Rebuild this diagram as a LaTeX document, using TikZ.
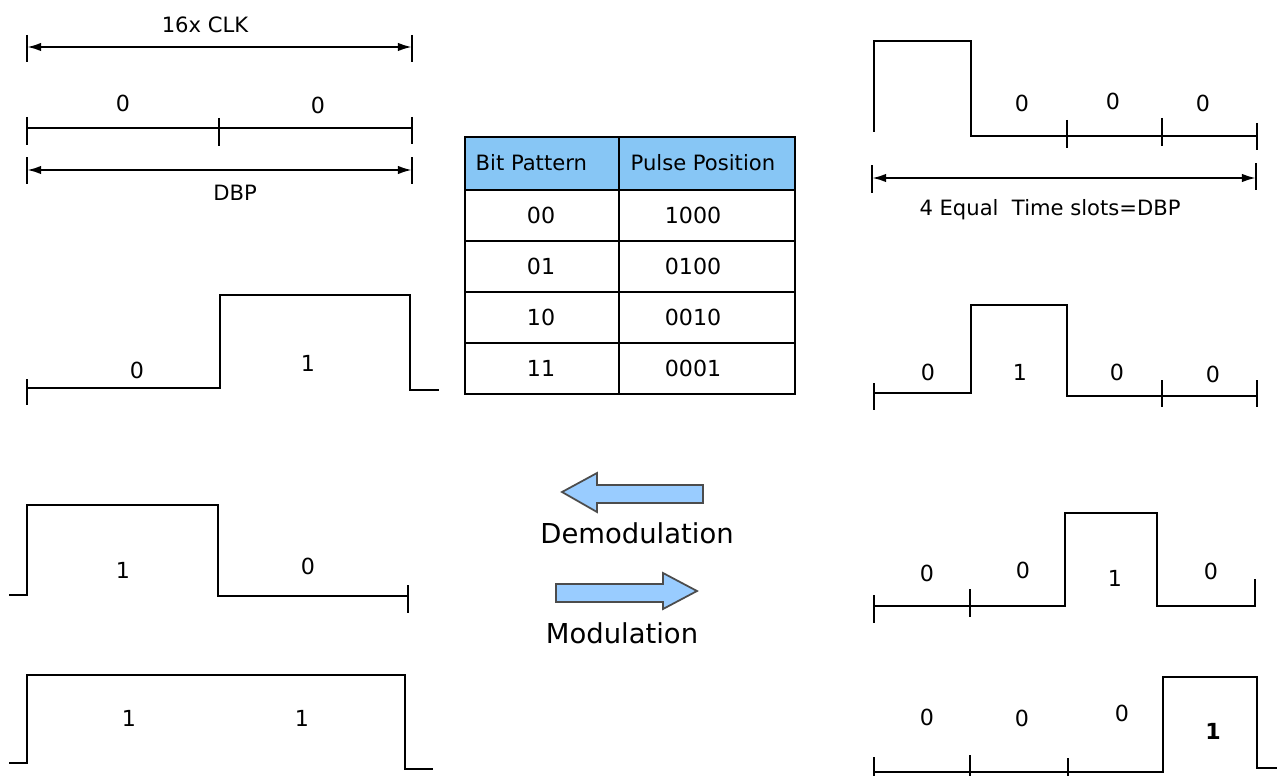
\documentclass[tikz,border=0pt]{standalone}
\usepackage{fontspec}
\setmainfont{DejaVu Sans}
\usetikzlibrary{arrows.meta}

\definecolor{hdrblue}{RGB}{135,198,245}
\definecolor{arrblue}{RGB}{153,204,255}

\tikzset{
  wave/.style={black, line width=0.6pt},
  tickmark/.style={black, line width=0.6pt},
  dimline/.style={black, line width=0.6pt, {Latex[length=4pt,width=2.4pt]}-{Latex[length=4pt,width=2.4pt]}},
  bitlbl/.style={inner sep=0pt, font=\fontsize{6.3}{7}\selectfont},
  txtlbl/.style={inner sep=0pt, font=\fontsize{6}{7}\selectfont},
  biglbl/.style={inner sep=0pt, font=\fontsize{7.8}{9}\selectfont},
  blockarrow/.style={fill=arrblue, draw=black!70, line width=0.5pt, line join=miter}
}

\begin{document}
\begin{tikzpicture}[x=0.01cm, y=-0.01cm]
  \useasboundingbox (0,0) rectangle (1277,776);

  % top left : clock and bit period
  \node[txtlbl] (clk) at (205,25) {16x CLK};
  \draw[tickmark] (27,35) -- (27,62);
  \draw[tickmark] (412,35) -- (412,62);
  \draw[dimline] (27,47) -- (412,47);
  \node[bitlbl] (t0a) at (123,103) {0};
  \node[bitlbl] (t0b) at (318,105) {0};
  \draw[wave] (27,128) -- (412,128);
  \draw[tickmark] (27,117) -- (27,145);
  \draw[tickmark] (219,118) -- (219,146);
  \draw[tickmark] (412,117) -- (412,144);
  \draw[tickmark] (27,157) -- (27,184);
  \draw[tickmark] (412,157) -- (412,184);
  \draw[dimline] (27,170) -- (412,170);
  \node[txtlbl] (dbp) at (235,193) {DBP};

  % left : bit patterns 01, 10, 11
  \draw[tickmark] (27,379) -- (27,405);
  \draw[wave] (27,388) -- (220,388) -- (220,295) -- (410,295) -- (410,390) -- (439,390);
  \node[bitlbl] (p01a) at (137,370) {0};
  \node[bitlbl] (p01b) at (308,363) {1};

  \draw[wave] (9,595) -- (27,595) -- (27,505) -- (218,505) -- (218,596) -- (408,596);
  \draw[tickmark] (408,585) -- (408,613);
  \node[bitlbl] (p10a) at (123,570) {1};
  \node[bitlbl] (p10b) at (308,566) {0};

  \draw[wave] (9,763) -- (27,763) -- (27,675) -- (405,675) -- (405,769) -- (433,769);
  \node[bitlbl] (p11a) at (129,718) {1};
  \node[bitlbl] (p11b) at (302,718) {1};

  % table
  \fill[hdrblue] (465,137) rectangle (795,190);
  \draw[line width=0.6pt] (465,137) rectangle (795,394);
  \draw[line width=0.6pt] (619,137) -- (619,394);
  \draw[line width=0.6pt] (465,190) -- (795,190);
  \node[txtlbl, anchor=west] (hbit) at (475,163) {Bit Pattern};
  \node[txtlbl, anchor=west] (hpos) at (630,163) {Pulse Position};
  \foreach \bits/\slots [count=\i] in {00/1000, 01/0100, 10/0010, 11/0001} {
    \draw[line width=0.6pt] (465,190+51*\i) -- (795,190+51*\i);
    \node[bitlbl] (bp\i) at (541,190+51*\i-25.5) {\bits};
    \node[bitlbl] (pp\i) at (693,190+51*\i-25.5) {\slots};
  }

  % middle : direction arrows
  \draw[blockarrow] (703,485) -- (597,485) -- (597,473) -- (562,492) -- (597,512) -- (597,503) -- (703,503) -- cycle;
  \node[biglbl] (demod) at (637,533) {Demodulation};
  \draw[blockarrow] (556,584) -- (663,584) -- (663,573) -- (697,591) -- (663,609) -- (663,602) -- (556,602) -- cycle;
  \node[biglbl] (mod) at (622,633) {Modulation};

  % right : pulse positions
  \draw[wave] (874,132) -- (874,41) -- (971,41) -- (971,136) -- (1257,136);
  \draw[tickmark] (1067,120) -- (1067,148);
  \draw[tickmark] (1162,118) -- (1162,146);
  \draw[tickmark] (1257,123) -- (1257,150);
  \node[bitlbl] (r1b) at (1022,103) {0};
  \node[bitlbl] (r1c) at (1113,101) {0};
  \node[bitlbl] (r1d) at (1203,103) {0};
  \draw[tickmark] (872,165) -- (872,193);
  \draw[tickmark] (1256,163) -- (1256,190);
  \draw[dimline] (872,178) -- (1256,178);
  \node[txtlbl] (slots) at (1050,210) {4 Equal\ \ Time slots=DBP};

  \draw[tickmark] (874,383) -- (874,410);
  \draw[wave] (874,393) -- (971,393) -- (971,305) -- (1067,305) -- (1067,396) -- (1257,396);
  \draw[tickmark] (1162,380) -- (1162,407);
  \draw[tickmark] (1257,380) -- (1257,407);
  \node[bitlbl] (r2a) at (928,372) {0};
  \node[bitlbl] (r2b) at (1020,372) {1};
  \node[bitlbl] (r2c) at (1117,372) {0};
  \node[bitlbl] (r2d) at (1213,374) {0};

  \draw[tickmark] (874,595) -- (874,623);
  \draw[tickmark] (970,589) -- (970,617);
  \draw[wave] (874,606) -- (1065,606) -- (1065,513) -- (1157,513) -- (1157,606) -- (1255,606) -- (1255,579);
  \node[bitlbl] (r3a) at (927,573) {0};
  \node[bitlbl] (r3b) at (1023,570) {0};
  \node[bitlbl] (r3c) at (1115,578) {1};
  \node[bitlbl] (r3d) at (1211,571) {0};

  \draw[tickmark] (874,757) -- (874,776);
  \draw[tickmark] (970,755) -- (970,776);
  \draw[tickmark] (1068,758) -- (1068,776);
  \draw[wave] (874,772) -- (1163,772) -- (1163,677) -- (1257,677) -- (1257,768) -- (1277,768);
  \node[bitlbl] (r4a) at (927,717) {0};
  \node[bitlbl] (r4b) at (1022,718) {0};
  \node[bitlbl] (r4c) at (1122,713) {0};
  \node[bitlbl, font=\fontsize{6.3}{7}\selectfont\bfseries] (r4d) at (1213,731) {1};
\end{tikzpicture}
\end{document}
